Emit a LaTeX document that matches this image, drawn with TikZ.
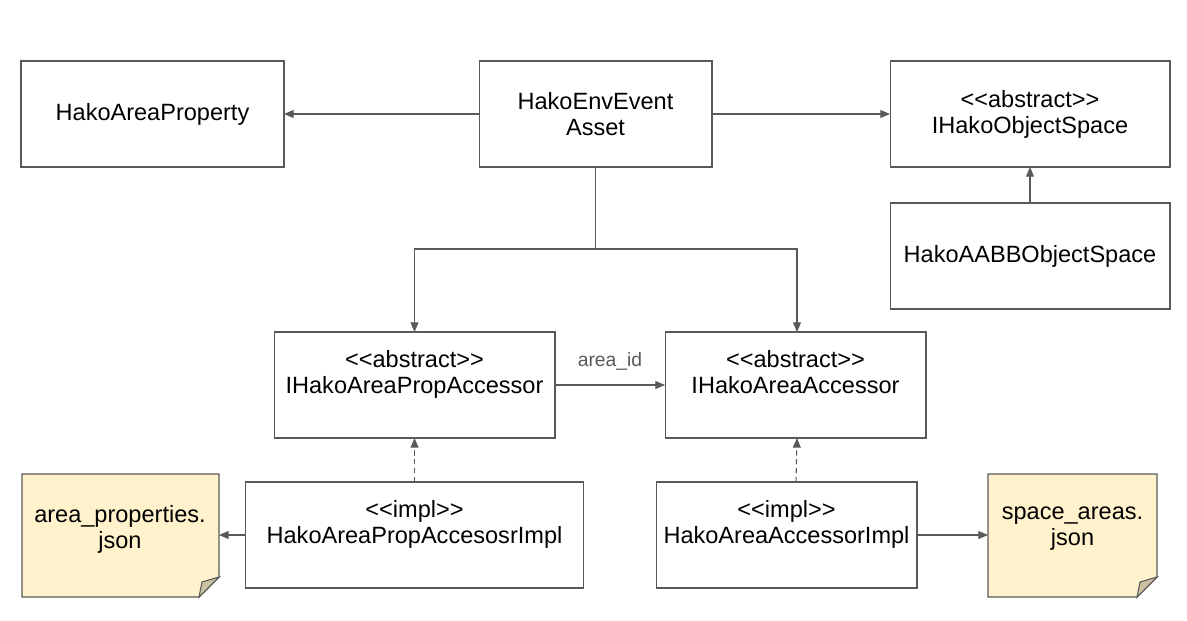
\documentclass[tikz,border=0pt]{standalone}
\usepackage{fontspec}
\setmainfont{Liberation Sans}
\usetikzlibrary{arrows.meta,positioning}
\definecolor{linegray}{HTML}{595959}
\definecolor{notefill}{HTML}{FFF2CC}
\definecolor{foldfill}{HTML}{CCC1A0}

\tikzset{
  box/.style={draw=linegray, line width=0.6pt, align=center, outer sep=0pt,
    minimum height=2.12cm, font=\fontsize{13.4}{14.9}\selectfont},
  notetext/.style={align=center, font=\fontsize{13.4}{14.9}\selectfont},
  lbl/.style={text=linegray, font=\fontsize{11}{13}\selectfont},
  conn/.style={draw=linegray, line width=0.6pt, -{Triangle[length=5.5pt,width=4.5pt]}},
  impl/.style={conn, dash pattern=on 3pt off 2pt}
}

\begin{document}
\begin{tikzpicture}[x=0.02cm,y=-0.02cm]
	\useasboundingbox (0,0) rectangle (1187,620);
	% top row
	\node[box, minimum width=5.26cm] (areaprop) at (152.5,114) {HakoAreaProperty};
	\node[box, minimum width=4.66cm] (envasset) at (595.5,114) {HakoEnvEvent\\Asset};
	\node[box, minimum width=5.6cm] (objspace) at (1030,114) {<{}<abstract>{}>\\IHakoObjectSpace};
	\node[box, minimum width=5.6cm] (aabbspace) at (1030,256) {HakoAABBObjectSpace};
	% accessors
	\node[box, minimum width=5.62cm] (propacc) at (414.5,385) {<{}<abstract>{}>\\IHakoAreaPropAccessor\\\mbox{}};
	\node[box, minimum width=5.22cm] (areaacc) at (795.5,385) {<{}<abstract>{}>\\IHakoAreaAccessor\\\mbox{}};
	\node[box, minimum width=6.78cm] (propimpl) at (414.5,535) {<{}<impl>{}>\\HakoAreaPropAccesosrImpl\\\mbox{}};
	\node[box, minimum width=5.22cm] (areaimpl) at (786.5,535) {<{}<impl>{}>\\HakoAreaAccessorImpl\\\mbox{}};
	% json notes
	\filldraw[fill=notefill, draw=linegray, line width=0.6pt] (22,474) -- (219,474) -- (219,577) -- (199,597) -- (22,597) -- cycle;
	\filldraw[fill=foldfill, draw=linegray, line width=0.6pt] (219,577) -- (202,582) -- (199,597) -- cycle;
	\node[notetext] (propjson) at (120,529) {area\_properties.\\json};
	\coordinate (propjson-e) at (219,535);
	\filldraw[fill=notefill, draw=linegray, line width=0.6pt] (988,474) -- (1157,474) -- (1157,577) -- (1137,597) -- (988,597) -- cycle;
	\filldraw[fill=foldfill, draw=linegray, line width=0.6pt] (1157,577) -- (1140,582) -- (1137,597) -- cycle;
	\node[notetext] (spacejson) at (1072.5,529) {space\_areas.\\json};
	\coordinate (spacejson-w) at (988,535);
	% connectors
	\draw[conn] (envasset) -- (areaprop);
	\draw[conn] (envasset) -- (objspace);
	\draw[conn] (aabbspace) -- (objspace);
	\coordinate (split) at (595.5,249);
	\draw[draw=linegray, line width=0.6pt] (envasset.south) -- (split);
	\draw[conn] (split) -| (propacc.north);
	\draw[conn] (split) -| ([xshift=0.03cm]areaacc.north);
	\draw[conn] (propacc) -- (areaacc);
	\node[lbl] (areaid) at (610,361) {area\_id};
	\draw[impl] (propimpl) -- (propacc);
	\draw[impl] ([xshift=0.19cm]areaimpl.north) -- ([xshift=0.03cm]areaacc.south);
	\draw[conn] (propimpl) -- (propjson-e);
	\draw[conn] (areaimpl) -- (spacejson-w);
\end{tikzpicture}
\end{document}
